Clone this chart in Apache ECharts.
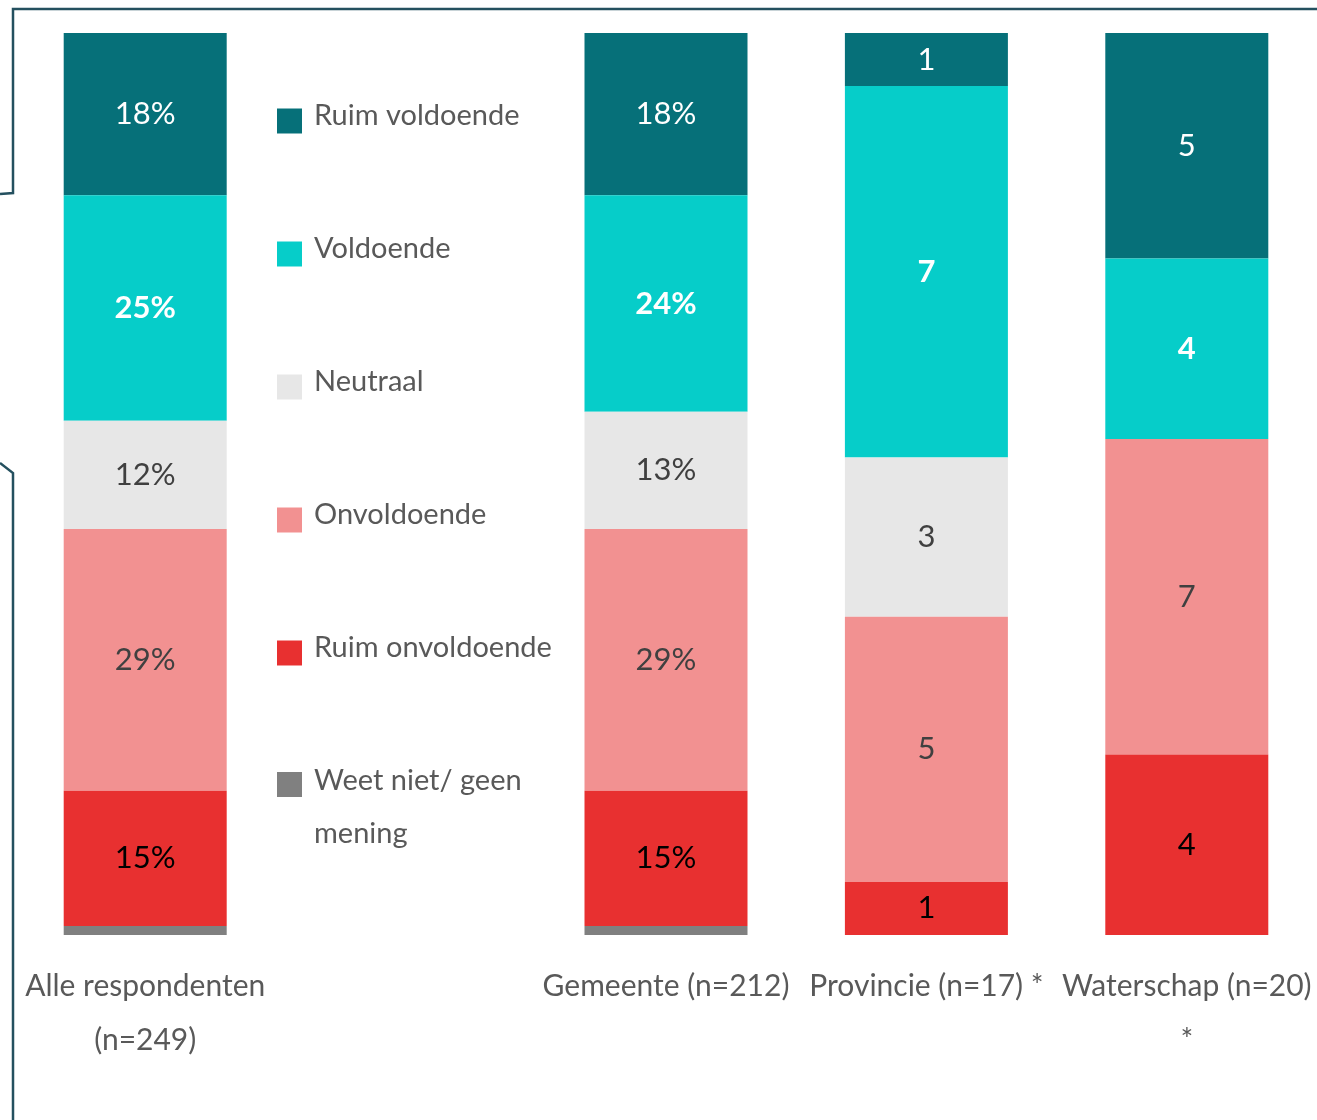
<!DOCTYPE html>
<html>
<head>
<meta charset="utf-8">
<title>Oordeel per type organisatie</title>
<script src="https://cdn.jsdelivr.net/npm/echarts@6/dist/echarts.min.js"></script>
<style>
  html, body { margin: 0; padding: 0; background: #ffffff; }
  #chart { width: 1317px; height: 1120px; }
</style>
</head>
<body>
<div id="chart"></div>
<script>
// Groups along the x axis; the empty slot leaves room for the legend.
const categories = ['Alle respondenten\n(n=249)', '', 'Gemeente (n=212)', 'Provincie (n=17) *', 'Waterschap (n=20)\n*'];
// true: values are percentages; false: values are respondent counts
const showsPercent = [true, false, true, false, false];

const seriesNames = ['Ruim voldoende', 'Voldoende', 'Neutraal', 'Onvoldoende', 'Ruim onvoldoende', 'Weet niet/ geen mening'];
const ruimVoldoende   = [18, null, 18, 1, 5];
const voldoende       = [25, null, 24, 7, 4];
const neutraal        = [12, null, 13, 3, 0];
const onvoldoende     = [29, null, 29, 5, 7];
const ruimOnvoldoende = [15, null, 15, 1, 4];
const weetNiet        = [1, null, 1, 0, 0];

const colors = ['#067079', '#06CDC9', '#E7E7E7', '#F29191', '#E83030', '#808080'];
const labelColors = ['#ffffff', '#ffffff', '#404040', '#404040', '#000000', '#000000'];
const labelWeights = ['normal', 'bold', 'normal', 'normal', 'normal', 'normal'];

const allValues = [ruimVoldoende, voldoende, neutraal, onvoldoende, ruimOnvoldoende, weetNiet];
const totals = categories.map((_, i) => allValues.reduce((s, arr) => s + (arr[i] || 0), 0));

const FONT = 'Lato, "Noto Sans", sans-serif';
const LEGEND_TEXT = { fontSize: 29, color: '#595959', fontFamily: FONT };

const series = allValues.map((arr, k) => ({
  name: seriesNames[k],
  type: 'bar',
  stack: 'total',
  barWidth: 163,
  itemStyle: { color: colors[k] },
  label: {
    show: k < 5,
    position: 'inside',
    color: labelColors[k],
    fontWeight: labelWeights[k],
    fontSize: 31,
    fontFamily: FONT,
    formatter: p => {
      const raw = p.data.raw;
      if (!raw) return '';
      return showsPercent[p.dataIndex] ? raw + '%' : String(raw);
    }
  },
  data: arr.map((v, i) => v == null ? { value: null, raw: null }
                                    : { value: totals[i] ? v / totals[i] * 100 : 0, raw: v })
}));

const chart = echarts.init(document.getElementById('chart'), null, { renderer: 'canvas' });
chart.setOption({
  animation: false,
  backgroundColor: '#ffffff',
  textStyle: { fontFamily: FONT },
  grid: { left: 15, top: 33, width: 1303, height: 902, containLabel: false },
  legend: [
    {
      data: seriesNames.slice(0, 5),
      orient: 'vertical',
      left: 277,
      top: 98,
      padding: 0,
      itemWidth: 25,
      itemHeight: 25,
      itemGap: 87,
      icon: 'rect',
      selectedMode: false,
      // name sits at the top of a taller line, so it rides a little above the swatch centre
      formatter: n => `{a|${n}}{s| }`,
      textStyle: {
        ...LEGEND_TEXT,
        padding: [0, 0, 0, 7],
        rich: {
          a: { ...LEGEND_TEXT, lineHeight: 36, height: 36, verticalAlign: 'top' },
          s: { ...LEGEND_TEXT, lineHeight: 46, height: 46 }
        }
      }
    },
    {
      data: [seriesNames[5]],
      orient: 'vertical',
      left: 277,
      top: 709,
      padding: 0,
      itemWidth: 25,
      itemHeight: 25,
      icon: 'rect',
      selectedMode: false,
      formatter: () => '{b| }\n{a|Weet niet/ geen}\n{a|mening}',
      textStyle: {
        ...LEGEND_TEXT,
        padding: [0, 0, 0, 7],
        rich: {
          a: { ...LEGEND_TEXT, lineHeight: 53 },
          b: { ...LEGEND_TEXT, lineHeight: 45, height: 45 }
        }
      }
    }
  ],
  xAxis: {
    type: 'category',
    data: categories,
    axisLine: { show: false },
    axisTick: { show: false },
    axisLabel: {
      interval: 0,
      color: '#595959',
      fontSize: 30,
      lineHeight: 54,
      margin: 24,
      fontFamily: FONT
    }
  },
  yAxis: {
    type: 'value',
    min: 0,
    max: 100,
    inverse: true,
    show: false,
    splitLine: { show: false }
  },
  graphic: [
    {
      type: 'polyline',
      silent: true,
      shape: { points: [[0, 194], [13, 193], [13, 9], [1317, 9]] },
      style: { stroke: '#24505F', lineWidth: 2.5, fill: null }
    },
    {
      type: 'polyline',
      silent: true,
      shape: { points: [[0, 463], [13, 473], [13, 1120]] },
      style: { stroke: '#24505F', lineWidth: 2.5, fill: null }
    }
  ],
  series: series
});
</script>
</body>
</html>
